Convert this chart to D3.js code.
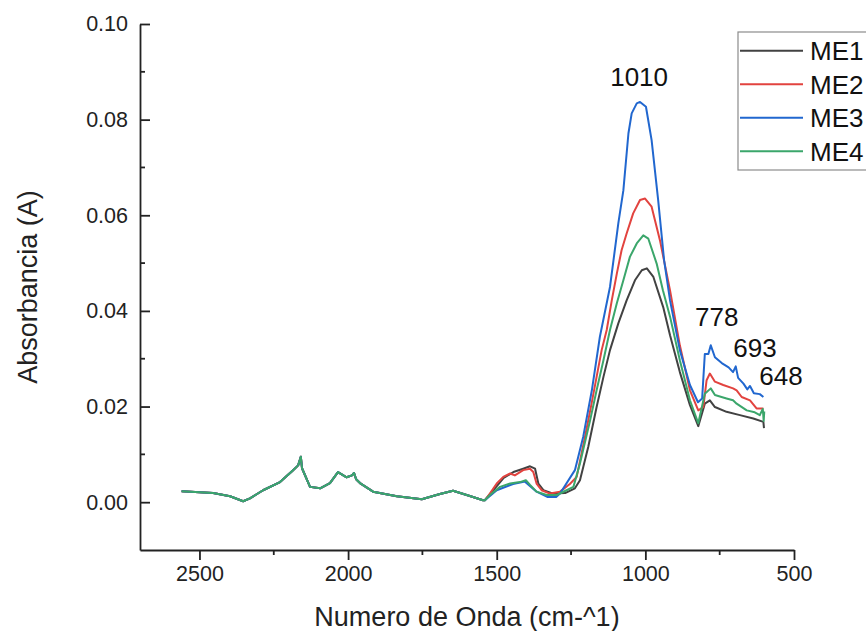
<!DOCTYPE html>
<html>
<head>
<meta charset="utf-8">
<script src="https://cdn.jsdelivr.net/npm/d3@7.9.0/dist/d3.min.js"></script>
<style>
  body { margin: 0; background: #fff; }
  svg { display: block; font-family: "Liberation Sans", Arial, sans-serif; }
</style>
</head>
<body>
<div id="chart"></div>
<script>
// region shared by all four spectra (2560 - 1546 cm-1)
const sharedWn = [2560, 2454, 2397, 2353, 2330, 2286, 2229, 2185, 2168, 2159, 2155, 2128, 2094, 2061, 2034, 2005, 1987, 1980, 1973, 1960, 1916, 1836, 1752, 1691, 1647, 1601, 1546];
const sharedAbs = [0.0023, 0.0019, 0.00125, 0.0002, 0.0008, 0.0025, 0.0042, 0.0067, 0.0077, 0.0095, 0.0071, 0.0032, 0.0029, 0.004, 0.0063, 0.0052, 0.0056, 0.0061, 0.0048, 0.004, 0.0022, 0.00125, 0.0006, 0.0017, 0.0024, 0.0015, 0.0004];

const me1Wn = [1540, 1506, 1478, 1444, 1411, 1388, 1371, 1360, 1343, 1310, 1270, 1237, 1220, 1192, 1164, 1141, 1119, 1091, 1063, 1035, 1012, 995, 973, 940, 917, 884, 850, 822, 800, 783, 766, 727, 682, 637, 603, 601];
const me1Abs = [0.0004, 0.0029, 0.005, 0.0063, 0.007, 0.0075, 0.007, 0.0039, 0.0025, 0.0018, 0.0019, 0.0029, 0.0046, 0.0116, 0.0199, 0.0262, 0.0318, 0.0374, 0.0422, 0.0464, 0.0485, 0.0489, 0.0471, 0.0408, 0.0349, 0.0272, 0.0203, 0.0159, 0.0206, 0.0213, 0.0199, 0.0189, 0.0182, 0.0175, 0.0168, 0.0155];

const me2Wn = [1540, 1523, 1500, 1478, 1455, 1439, 1411, 1388, 1377, 1366, 1349, 1321, 1287, 1254, 1231, 1203, 1181, 1164, 1147, 1130, 1113, 1096, 1080, 1063, 1041, 1018, 1001, 979, 951, 917, 884, 850, 822, 805, 794, 783, 766, 738, 705, 693, 676, 648, 626, 603];
const me2Abs = [0.0004, 0.0018, 0.0039, 0.0053, 0.006, 0.0056, 0.0067, 0.007, 0.0063, 0.0039, 0.0025, 0.0018, 0.0022, 0.0038, 0.0053, 0.0137, 0.0206, 0.0262, 0.0318, 0.036, 0.0422, 0.0478, 0.0527, 0.0562, 0.0604, 0.0632, 0.0635, 0.0618, 0.0548, 0.0443, 0.0328, 0.0234, 0.0192, 0.0199, 0.0255, 0.0269, 0.0252, 0.0245, 0.0238, 0.0234, 0.022, 0.0213, 0.0196, 0.0196];

const me3Wn = [1540, 1500, 1445, 1405, 1366, 1330, 1300, 1287, 1237, 1209, 1180, 1153, 1119, 1091, 1074, 1057, 1046, 1029, 1018, 998, 979, 957, 937, 917, 884, 850, 823, 809, 800, 788, 780, 766, 743, 720, 705, 696, 688, 670, 657, 648, 635, 615, 603];
const me3Abs = [0.0004, 0.0025, 0.0038, 0.0043, 0.0022, 0.0011, 0.0011, 0.0018, 0.0067, 0.0137, 0.0234, 0.0346, 0.045, 0.0583, 0.0652, 0.0771, 0.0813, 0.0834, 0.0837, 0.0827, 0.0757, 0.0632, 0.0506, 0.0422, 0.0318, 0.0245, 0.0209, 0.0217, 0.031, 0.031, 0.0328, 0.0303, 0.0291, 0.0282, 0.0272, 0.0284, 0.026, 0.0248, 0.0236, 0.0243, 0.0228, 0.0226, 0.022];

const me4Wn = [1540, 1523, 1489, 1455, 1422, 1402, 1388, 1366, 1332, 1298, 1265, 1242, 1220, 1186, 1164, 1141, 1119, 1096, 1074, 1052, 1029, 1007, 990, 962, 941, 917, 884, 850, 822, 800, 780, 766, 727, 705, 693, 659, 632, 615, 605, 602, 600];
const me4Abs = [0.0004, 0.0015, 0.0032, 0.0039, 0.0042, 0.0046, 0.0036, 0.0022, 0.0015, 0.0015, 0.0025, 0.0032, 0.0081, 0.0171, 0.0234, 0.0297, 0.036, 0.0416, 0.0464, 0.0513, 0.0541, 0.0558, 0.0551, 0.0499, 0.0443, 0.0388, 0.0297, 0.0213, 0.0165, 0.0227, 0.0238, 0.0224, 0.0217, 0.0213, 0.0206, 0.0192, 0.0188, 0.0182, 0.0195, 0.017, 0.019];

const seriesNames = ["ME1", "ME2", "ME3", "ME4"];
const seriesColors = ["#424242", "#e2433f", "#2167cf", "#3ba66b"];

const xTicks = [2500, 2000, 1500, 1000, 500];
const xMinorTicks = [2250, 1750, 1250, 750];
const yTicks = [0.0, 0.02, 0.04, 0.06, 0.08, 0.1];
const yMinorTicks = [0.01, 0.03, 0.05, 0.07, 0.09];

const peakLabels = ["1010", "778", "693", "648"];
const peakLabelWn = [1021, 760, 631, 544];
const peakLabelAbs = [0.087, 0.0369, 0.0304, 0.0245];

function buildSeries() {
  const tails = [
    [me1Wn, me1Abs],
    [me2Wn, me2Abs],
    [me3Wn, me3Abs],
    [me4Wn, me4Abs],
  ];
  return seriesNames.map((name, i) => {
    const [wn, abs] = tails[i];
    const points = sharedWn
      .map((w, j) => ({ wn: w, abs: sharedAbs[j] }))
      .concat(wn.map((w, j) => ({ wn: w, abs: abs[j] })));
    return { name, color: seriesColors[i], points };
  });
}

function renderChart(series, {
  width = 866,
  height = 631,
  margin = { top: 24, right: 72, bottom: 81, left: 140 },
} = {}) {
  const area = {
    top: margin.top,
    left: margin.left,
    right: width - margin.right,
    bottom: height - margin.bottom,
  };

  const svg = d3
    .select("#chart")
    .append("svg")
    .attr("width", width)
    .attr("height", height);

  const xScale = d3.scaleLinear().domain([2700, 500]).range([area.left, area.right]);
  const yScale = d3.scaleLinear().domain([-0.01, 0.1]).range([area.bottom, area.top]);

  // spectra
  const line = d3
    .line()
    .x((d) => xScale(d.wn))
    .y((d) => yScale(d.abs));

  svg
    .append("g")
    .attr("class", "spectra")
    .selectAll("path")
    .data(series)
    .join("path")
    .attr("d", (d) => line(d.points))
    .attr("fill", "none")
    .attr("stroke", (d) => d.color)
    .attr("stroke-width", 2)
    .attr("stroke-linejoin", "round");

  // x axis: ticks outward
  const xAxis = svg
    .append("g")
    .attr("transform", `translate(0, ${area.bottom})`)
    .call(
      d3.axisBottom(xScale)
        .tickValues(xTicks)
        .tickFormat(d3.format("d"))
        .tickSizeInner(10)
        .tickSizeOuter(0)
        .tickPadding(6)
    );
  xAxis
    .selectAll(".tick.minor")
    .data(xMinorTicks)
    .join("line")
    .attr("x1", (d) => xScale(d))
    .attr("x2", (d) => xScale(d))
    .attr("y1", 0)
    .attr("y2", 5)
    .attr("stroke", "#222")
    .attr("stroke-width", 1.8);

  // y axis: ticks inward
  const yAxis = svg
    .append("g")
    .attr("transform", `translate(${area.left}, 0)`)
    .call(
      d3.axisLeft(yScale)
        .tickValues(yTicks)
        .tickFormat(d3.format(".2f"))
        .tickSizeInner(-10)
        .tickSizeOuter(0)
        .tickPadding(12)
    );
  yAxis
    .selectAll(".tick.minor")
    .data(yMinorTicks)
    .join("line")
    .attr("x1", 0)
    .attr("x2", 5)
    .attr("y1", (d) => yScale(d))
    .attr("y2", (d) => yScale(d))
    .attr("stroke", "#222")
    .attr("stroke-width", 1.8);

  for (let axis of [xAxis, yAxis]) {
    axis.selectAll(".domain, .tick line").attr("stroke", "#222").attr("stroke-width", 1.8);
    axis.selectAll(".tick text").attr("fill", "#222").style("font-size", "21.5px");
  }

  // axis titles
  svg
    .append("text")
    .attr("x", (area.left + area.right) / 2)
    .attr("y", 626)
    .attr("text-anchor", "middle")
    .attr("fill", "#222")
    .style("font-size", "27px")
    .text("Numero de Onda (cm-^1)");

  svg
    .append("text")
    .attr("transform", `translate(37, ${(area.top + area.bottom) / 2}) rotate(-90)`)
    .attr("text-anchor", "middle")
    .attr("fill", "#222")
    .style("font-size", "27px")
    .text("Absorbancia (A)");

  // peak annotations
  svg
    .append("g")
    .selectAll("text")
    .data(peakLabels)
    .join("text")
    .attr("x", (d, i) => xScale(peakLabelWn[i]))
    .attr("y", (d, i) => yScale(peakLabelAbs[i]))
    .attr("text-anchor", "middle")
    .attr("fill", "#111")
    .style("font-size", "26px")
    .text((d) => d);

  // legend (runs off the right edge like the original)
  const legend = svg.append("g").attr("transform", "translate(738, 32)");
  legend
    .append("rect")
    .attr("width", 160)
    .attr("height", 138)
    .attr("fill", "#fff")
    .attr("stroke", "#8c8c8c")
    .attr("stroke-width", 1.2);

  const rows = legend
    .selectAll("g.row")
    .data(series)
    .join("g")
    .attr("class", "row")
    .attr("transform", (d, i) => `translate(0, ${18.7 + i * 33.5})`);
  rows
    .append("line")
    .attr("x1", 2)
    .attr("x2", 65)
    .attr("stroke", (d) => d.color)
    .attr("stroke-width", 2);
  rows
    .append("text")
    .attr("x", 72)
    .attr("dy", "0.36em")
    .attr("fill", "#111")
    .style("font-size", "26px")
    .text((d) => d.name);
}

renderChart(buildSeries());
</script>
</body>
</html>
